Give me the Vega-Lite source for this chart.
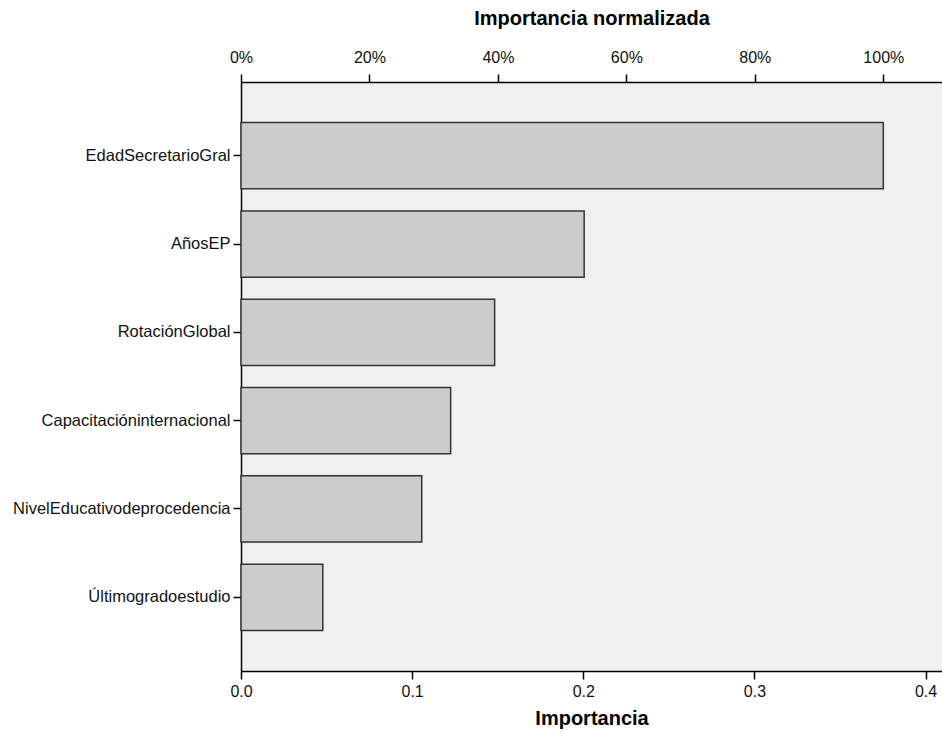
{
  "$schema": "https://vega.github.io/schema/vega-lite/v6.json",
  "width": 701,
  "height": 589,
  "autosize": {"type": "none"},
  "padding": {"left": 241, "top": 82, "right": 0, "bottom": 70},
  "background": "white",
  "config": {
    "view": {"fill": "#F0F0F0", "stroke": null},
    "font": "Liberation Sans",
    "axis": {
      "domainColor": "#000000",
      "domainWidth": 1.5,
      "tickColor": "#000000",
      "tickWidth": 1.5,
      "tickSize": 8,
      "labelColor": "#111111",
      "labelFont": "Liberation Sans",
      "labelFontSize": 16,
      "labelFlush": false,
      "labelLimit": 400,
      "titleFont": "Liberation Sans",
      "titleFontWeight": "bold",
      "titleFontSize": 20,
      "titleColor": "#000000",
      "grid": false
    }
  },
  "data": {
    "values": [
      {"variable": "EdadSecretarioGral", "importancia": 0.3753, "normalizada": 1.0},
      {"variable": "AñosEP", "importancia": 0.2005, "normalizada": 0.5342},
      {"variable": "RotaciónGlobal", "importancia": 0.1482, "normalizada": 0.3949},
      {"variable": "Capacitacióninternacional", "importancia": 0.1225, "normalizada": 0.3264},
      {"variable": "NivelEducativodeprocedencia", "importancia": 0.1056, "normalizada": 0.2814},
      {"variable": "Últimogradoestudio", "importancia": 0.0478, "normalizada": 0.1274}
    ]
  },
  "encoding": {
    "y": {
      "field": "variable",
      "type": "nominal",
      "sort": null,
      "scale": {"paddingInner": 0.25, "paddingOuter": 0.46},
      "axis": {"title": null, "labelPadding": 3, "labelFontSize": 16.5}
    }
  },
  "layer": [
    {
      "mark": {"type": "bar", "fill": "#CCCCCC", "stroke": "#333333", "strokeWidth": 1.5},
      "encoding": {
        "x": {
          "field": "importancia",
          "type": "quantitative",
          "scale": {"domain": [0, 0.4096], "nice": false, "zero": true},
          "axis": {
            "orient": "bottom",
            "title": "Importancia",
            "values": [0, 0.1, 0.2, 0.3, 0.4],
            "format": ".1f",
            "labelPadding": 4,
            "titlePadding": 9
          }
        }
      }
    },
    {
      "mark": {"type": "point", "opacity": 0},
      "encoding": {
        "x": {
          "field": "normalizada",
          "type": "quantitative",
          "scale": {"domain": [0, 1.0914], "nice": false, "zero": true},
          "axis": {
            "orient": "top",
            "title": "Importancia normalizada",
            "values": [0, 0.2, 0.4, 0.6, 0.8, 1.0],
            "format": ".0%",
            "labelPadding": 9,
            "titlePadding": 21
          }
        }
      }
    }
  ],
  "resolve": {"scale": {"x": "independent"}, "axis": {"x": "independent"}}
}
